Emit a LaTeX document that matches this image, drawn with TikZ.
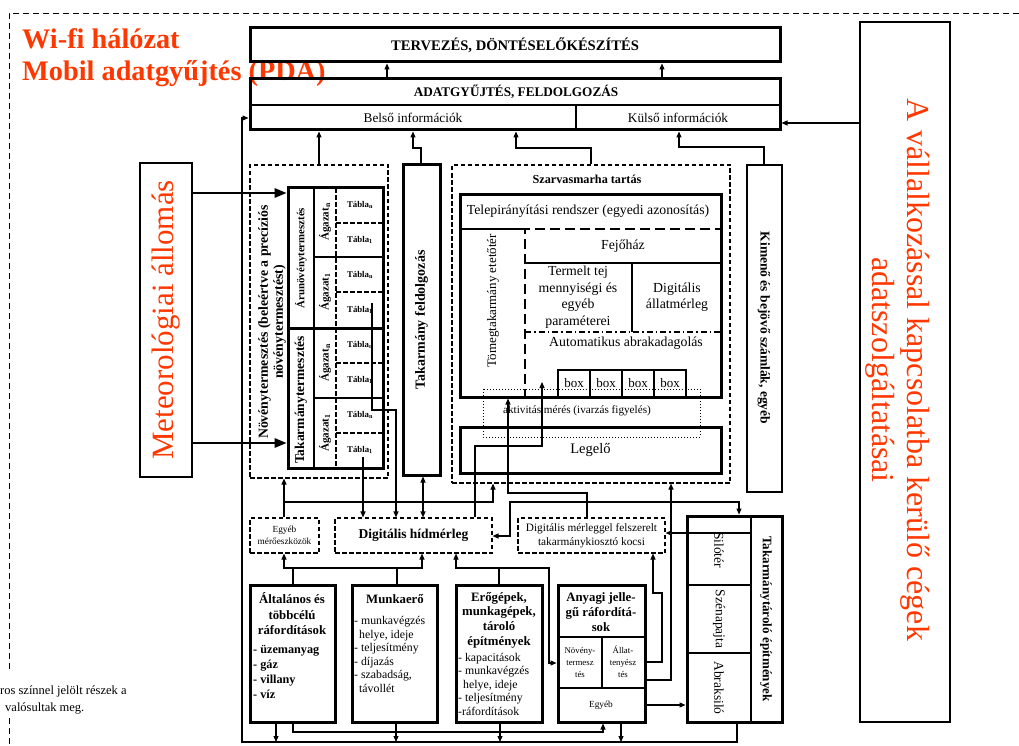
\documentclass[tikz,border=0pt]{standalone}
\usepackage{fontspec}
\setmainfont{Liberation Serif}
\usetikzlibrary{arrows.meta,fit}
\definecolor{hlred}{RGB}{255,55,0}
\newcommand\fsz[2]{\fontsize{#1}{#2}\selectfont}
\begin{document}
\begin{tikzpicture}[x=1pt,y=-1pt,
  thk/.style={draw, line width=3pt, inner sep=0pt},
  thn/.style={draw, line width=1.1pt, inner sep=0pt},
  dsh/.style={draw, line width=1.1pt, dash pattern=on 4.5pt off 2.5pt, inner sep=0pt},
  ln/.style={line width=1.1pt},
  tip/.tip={Triangle[length=6pt,width=5pt]},
  arr/.style={ln, -tip},
  arrb/.style={ln, tip-tip},
  bigarr/.style={line width=1.8pt, -{Triangle[length=12pt,width=9.5pt]}},
  txt/.style={inner sep=0pt, align=center},
  lst/.style={inner sep=0pt, align=left, anchor=north west},
  framedash/.style={line width=0.9pt, dash pattern=on 6pt off 4pt}]
\useasboundingbox (0,0) rectangle (1019,746);
\clip (0,0) rectangle (1019,746);

% outer frame and notes
\draw[framedash] (1019,13) -- (9,13) -- (9,672);
\draw[framedash] (9,718) -- (9,746);
\node[anchor=base west, inner sep=0pt, text=hlred, font=\bfseries\fsz{28.3}{30}] (wifi) at (22,49) {Wi-fi hálózat};
\node[anchor=base west, inner sep=0pt, text=hlred, font=\bfseries\fsz{28.3}{30}] (pda) at (22,81) {Mobil adatgyűjtés (PDA)};
\node[anchor=base west, inner sep=0pt, font=\fsz{12.5}{14}] (note1) at (0,694) {ros színnel jelölt részek a};
\node[anchor=base west, inner sep=0pt, font=\fsz{12.5}{14}] (note2) at (5,711) {valósultak meg.};

% top boxes
\node[thk, fit={(250,28) (780,62)}] (plan) {};
\node[txt, font=\bfseries\fsz{14.6}{16}] (planT) at (plan.center) {TERVEZÉS, DÖNTÉSELŐKÉSZÍTÉS};
\node[thk, fit={(250,79) (780,130)}] (adat) {};
\draw[ln] (250,105) -- (780,105);
\draw[line width=1.8pt] (576,105) -- (576,130);
\node[txt, font=\bfseries\fsz{13.2}{14}] (adatT) at (516,92) {ADATGYŰJTÉS, FELDOLGOZÁS};
\node[txt, font=\fsz{13.3}{15}] (belso) at (413,118) {Belső információk};
\node[txt, font=\fsz{13.3}{15}] (kulso) at (678,118) {Külső információk};
\draw[arr] (adat.north -| 387,0) -- (plan.south -| 387,0);
\draw[arr] (adat.north -| 662,0) -- (plan.south -| 662,0);

% external data providers
\node[thn, fit={(860,22) (950,722)}] (ext) {};
\node[txt, rotate=-90, text=hlred, font=\fsz{32}{35}] (extT) at (898,370) {A vállalkozással kapcsolatba kerülő cégek\\adatszolgáltatásai};
\draw[arr] (ext.west |- 0,123) -- (adat.east |- 0,123);

% weather station
\node[thn, fit={(140,163) (192,477)}] (met) {};
\node[txt, rotate=90, text=hlred, font=\fsz{31}{33}] (metT) at (met.center) {Meteorológiai állomás};

% crop production
\node[dsh, fit={(250,165) (388,478)}] (nov) {};
\node[txt, rotate=90, font=\bfseries\fsz{13.8}{15}] (novT) at (272,322) {Növénytermesztés (beleértve a precíziós\\növénytermesztést)};
\node[thk, fit={(288,188) (383,468)}] (ntab) {};
\draw[ln] (314,188) -- (314,468);
\draw[ln, dash pattern=on 4.5pt off 2.5pt] (336,188) -- (336,468);
\draw[line width=3pt] (288,328) -- (383,328);
\draw[ln] (314,257) -- (383,257);
\draw[ln] (314,398) -- (383,398);
\foreach \yy in {223,292,363,433} \draw[ln, dash pattern=on 4.5pt off 2.5pt] (336,\yy) -- (383,\yy);
\node[txt, rotate=90, font=\bfseries\fsz{10.8}{12}] (aru) at (301,258) {Árunövénytermesztés};
\node[txt, rotate=90, font=\bfseries\fsz{13.5}{14}] (takt) at (301,400) {Takarmánytermesztés};
\foreach \yy/\ss [count=\i] in {222/n,292/1,363/n,433/1}
  \node[txt, rotate=90, font=\bfseries\fsz{11}{12}] (ag\i) at (325,\yy) {Ágazat\textsubscript{\ss}};
\foreach \yy/\ss [count=\i] in {205/n,240/1,275/n,310/1,345/n,380/1,415/n,450/1}
  \node[txt, font=\bfseries\fsz{8.8}{10}] (tb\i) at (360,\yy) {Tábla\textsubscript{\ss}};
\draw[bigarr] (met.east |- 0,193) -- (ntab.west |- 0,193);
\draw[bigarr] (met.east |- 0,443) -- (ntab.west |- 0,443);

% feed processing
\node[thk, fit={(403,165) (440,475)}] (tfeld) {};
\node[txt, rotate=90, font=\bfseries\fsz{14}{15}] (tfeldT) at (tfeld.center) {Takarmány feldolgozás};

% cattle keeping
\node[dsh, fit={(452,165) (730,483)}] (szarv) {};
\node[txt, font=\bfseries\fsz{12.2}{14}] (szarvT) at (587,179) {Szarvasmarha tartás};
\node[thk, fit={(460,194) (721,397)}] (telep) {};
\draw[ln] (460,229) -- (525,229);
\node[txt, font=\fsz{13.8}{15}] (telepT) at (588,211) {Telepirányítási rendszer (egyedi azonosítás)};
\node[txt, rotate=90, font=\fsz{13}{14}] (etet) at (493,301) {Tömegtakarmány etetőtér};
\node[draw, line width=2.6pt, dash pattern=on 10pt off 5pt, inner sep=0pt, fit={(525,229) (721,397)}] (fejo) {};
\draw[ln] (525,263) -- (721,263);
\draw[ln] (632,263) -- (632,332);
\draw[line width=2.6pt, dash pattern=on 6pt off 3pt on 1.5pt off 3pt] (525,332) -- (721,332);
\node[txt, font=\fsz{13.8}{15}] (fejoT) at (623,246) {Fejőház};
\node[txt, font=\fsz{13.8}{16.5}] (tej) at (578,297) {Termelt tej\\mennyiségi és\\egyéb\\paraméterei};
\node[txt, font=\fsz{13.8}{16.5}] (amerl) at (677,297) {Digitális\\állatmérleg};
\node[txt, font=\fsz{13.8}{15}] (abrak) at (626,343) {Automatikus abrakadagolás};
\foreach \xx [count=\i] in {558,590,622,654} {
  \node[thn, fit={(\xx,370) (\xx+32,397)}] (bx\i) {};
  \node[txt, font=\fsz{13}{15}] (bxT\i) at (bx\i.center) {box};
}
\draw[line width=0.8pt, dash pattern=on 0.8pt off 2.2pt] (483,389) rectangle (700,437);
\node[txt, font=\fsz{11.2}{13}] (aktiv) at (577,411) {aktivitás mérés (ivarzás figyelés)};
\node[thk, fit={(460,427) (721,473)}] (legelo) {};
\node[txt, font=\fsz{14.5}{16}] (legeloT) at (legelo.center) {Legelő};

% invoices
\node[thn, fit={(747,165) (782,492)}] (kim) {};
\node[txt, rotate=-90, font=\bfseries\fsz{13.5}{14}] (kimT) at (764,328) {Kimenő és bejövő számlák, egyéb};

% flows into data collection
\draw[arr] (nov.north -| 319,0) -- (adat.south -| 319,0);
\draw[arr] (tfeld.north -| 421,0) -- (421,148) -- (413,148) -- (adat.south -| 413,0);
\draw[arr] (szarv.north -| 591,0) -- (591,148) -- (516,148) -- (adat.south -| 516,0);
\draw[arr] (kim.north -| 764,0) -- (764,147) -- (679,147) -- (adat.south -| 679,0);

% measuring devices
\node[dsh, fit={(250,518) (319,553)}] (egym) {};
\node[txt, font=\fsz{9.3}{12}] (egymT) at (egym.center) {Egyéb\\mérőeszközök};
\node[dsh, fit={(335,518) (492,553)}] (hid) {};
\node[txt, font=\bfseries\fsz{13.5}{15}] (hidT) at (hid.center) {Digitális hídmérleg};
\node[dsh, fit={(518,518) (665,553)}] (kocsi) {};
\node[txt, font=\fsz{11.3}{14}] (kocsiT) at (kocsi.center) {Digitális mérleggel felszerelt\\takarmánykiosztó kocsi};

% cost centres
\node[thk, fit={(250,585) (335,722)}] (alt) {};
\node[txt, font=\bfseries\fsz{12.8}{15.5}] (altT) at (292,614) {Általános és\\többcélú\\ráfordítások};
\node[lst, font=\bfseries\fsz{12.2}{15}] (altL) at (253,645) {- üzemanyag\\- gáz\\- villany\\- víz};
\node[thk, fit={(352,585) (437,722)}] (munka) {};
\node[txt, font=\bfseries\fsz{12.8}{15}] (munkaT) at (395,599) {Munkaerő};
\node[lst, font=\fsz{11.8}{13.6}] (munkaL) at (354,616) {- munkavégzés\\\hspace*{5pt}helye, ideje\\- teljesítmény\\- díjazás\\- szabadság,\\\hspace*{5pt}távollét};
\node[thk, fit={(456,585) (542,722)}] (erog) {};
\node[txt, font=\bfseries\fsz{12.8}{14.6}] (erogT) at (499,620) {Erőgépek,\\munkagépek,\\tároló\\építmények};
\node[lst, font=\fsz{11.8}{13.5}] (erogL) at (458,653) {- kapacitások\\- munkavégzés\\\hspace*{5pt}helye, ideje\\- teljesítmény\\-ráfordítások};
\node[thk, fit={(558,585) (645,722)}] (anyag) {};
\draw[ln] (558,637) -- (645,637);
\draw[ln] (602,637) -- (602,688);
\draw[ln] (558,688) -- (645,688);
\node[txt, font=\bfseries\fsz{12.8}{15}] (anyagT) at (601,612) {Anyagi jelle-\\gű ráfordítá-\\sok};
\node[txt, font=\fsz{8.8}{12}] (anov) at (580,662) {Növény-\\termesz\\tés};
\node[txt, font=\fsz{8.8}{12}] (aall) at (623,662) {Állat-\\tenyész\\tés};
\node[txt, font=\fsz{9.3}{11}] (aegy) at (601,705) {Egyéb};

% feed storage
\node[thk, fit={(687,516) (782,722)}] (tstore) {};
\draw[ln] (751,516) -- (751,722);
\draw[ln] (687,585) -- (751,585);
\draw[ln] (687,653) -- (751,653);
\node[txt, rotate=-90, font=\fsz{13.5}{15}] (silo) at (719,550) {Silótér};
\node[txt, rotate=-90, font=\fsz{13.5}{15}] (szena) at (719,619) {Szénapajta};
\node[txt, rotate=-90, font=\fsz{13.5}{15}] (abrsilo) at (719,688) {Abraksiló};
\node[txt, rotate=-90, font=\bfseries\fsz{13}{14}] (tstoreT) at (766,619) {Takarmánytároló építmények};

% connectors in the middle band
\draw[arr] (egym.north -| 284,0) -- (nov.south -| 284,0);
\draw[arr] (284,502) -- (493,502) -- (szarv.south -| 493,0);
\draw[arr] (363,457) -- (hid.north -| 363,0);
\draw[arr] (372,303) -- (372,410) -- (396,410) -- (hid.north -| 396,0);
\draw[arrb] (tfeld.south -| 423,0) -- (hid.north -| 423,0);
\draw[arr] (hid.north -| 475,0) -- (475,446) -- (542,446) -- (542,382);
\draw[arr] (kocsi.north -| 587,0) -- (587,493) -- (508,493) -- (telep.south -| 508,0);
\draw[arrb] (tstore.north -| 739,0) -- (739,502) -- (510,502) -- (510,536) -- (hid.east |- 0,536);
\draw[arr] (751,533) -- (kocsi.east |- 0,533);
\draw[arrb] (egym.south -| 284,0) -- (284,568) -- (422,568) -- (hid.south -| 422,0);
\draw[ln] (alt.north -| 293,0) -- (293,568);
\draw[ln] (munka.north -| 397,0) -- (397,568);
\draw[arr] (erog.north -| 499,0) -- (499,568) -- (456,568) -- (hid.south -| 456,0);
\draw[arr] (499,568) -- (549,568) -- (549,663) -- (anyag.west |- 0,663);
\draw[arr] (anyag.east |- 0,662) -- (662,662) -- (662,593) -- (653,593) -- (kocsi.south -| 653,0);
\draw[arr] (anyag.east |- 0,680) -- (671,680) -- (szarv.south -| 671,0);
\draw[arr] (anyag.east |- 0,705) -- (tstore.west |- 0,705);

% bottom collector back to internal information
\draw[arr] (tstore.south -| 737,0) -- (737,742) -- (242,742) -- (242,118) -- (adat.west |- 0,118);
\foreach \xx/\nd in {276/alt,396/munka,500/erog,621/anyag}
  \draw[arr] (\nd.south -| \xx,0) -- (\xx,742);
\draw[arr] (alt.south -| 293,0) -- (293,732) -- (603,732) -- (anyag.south -| 603,0);
\end{tikzpicture}
\end{document}
